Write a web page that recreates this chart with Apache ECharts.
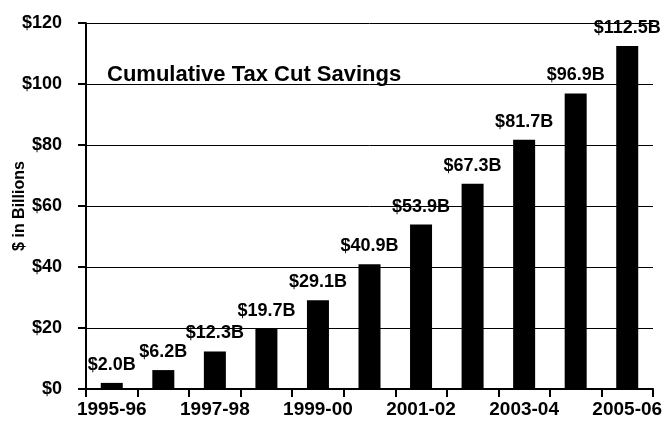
<!DOCTYPE html>
<html>
<head>
<meta charset="utf-8">
<script src="https://cdn.jsdelivr.net/npm/echarts@6/dist/echarts.min.js"></script>
<style>
  html, body { margin: 0; padding: 0; background: #fff; }
  #chart { width: 667px; height: 426px; }
</style>
</head>
<body>
<div id="chart"></div>
<script>
// Fiscal years and cumulative savings ($ billions)
const years = ['1995-96', '1996-97', '1997-98', '1998-99', '1999-00', '2000-01',
               '2001-02', '2002-03', '2003-04', '2004-05', '2005-06'];
const savings = [2.0, 6.2, 12.3, 19.7, 29.1, 40.9, 53.9, 67.3, 81.7, 96.9, 112.5];
const yTicks = [0, 20, 40, 60, 80, 100, 120];

const FONT = '"Liberation Sans", Arial, sans-serif';

const chart = echarts.init(document.getElementById('chart'), null, { renderer: 'canvas' });

chart.setOption({
  animation: false,
  backgroundColor: '#fff',
  title: {
    text: 'Cumulative Tax Cut Savings',
    left: 102,
    top: 59,
    textStyle: { fontFamily: FONT, fontWeight: 'bold', fontSize: 22, color: '#000' }
  },
  grid: {
    left: 86, right: 14, top: 23, bottom: 37,
    containLabel: false,
    outerBoundsMode: 'none'
  },
  xAxis: {
    type: 'category',
    data: years,
    boundaryGap: true,
    axisLine: { lineStyle: { color: '#000', width: 2 } },
    axisTick: { show: true, interval: 0, length: 8, lineStyle: { color: '#000', width: 2 } },
    axisLabel: {
      interval: 1,
      margin: 11,
      fontFamily: FONT, fontWeight: 'bold', fontSize: 19, color: '#000'
    }
  },
  yAxis: {
    type: 'value',
    min: yTicks[0],
    max: yTicks[yTicks.length - 1],
    interval: yTicks[1] - yTicks[0],
    name: '$ in Billions',
    nameLocation: 'middle',
    nameGap: 58,
    nameMoveOverlap: false,
    nameTextStyle: { fontFamily: FONT, fontWeight: 'bold', fontSize: 16, color: '#000' },
    axisLine: { show: true, lineStyle: { color: '#000', width: 2 } },
    axisTick: { show: true, length: 8, lineStyle: { color: '#000', width: 2 } },
    splitLine: { show: true, lineStyle: { color: '#000', width: 1 } },
    axisLabel: {
      margin: 24,
      formatter: v => '$' + v,
      fontFamily: FONT, fontWeight: 'bold', fontSize: 18, color: '#000'
    }
  },
  series: [{
    type: 'bar',
    data: savings,
    barWidth: 22,
    itemStyle: { color: '#000' },
    label: {
      show: true,
      position: 'top',
      distance: 9,
      formatter: p => '$' + p.value.toFixed(1) + 'B',
      fontFamily: FONT, fontWeight: 'bold', fontSize: 18, color: '#000'
    }
  }]
});
</script>
</body>
</html>
